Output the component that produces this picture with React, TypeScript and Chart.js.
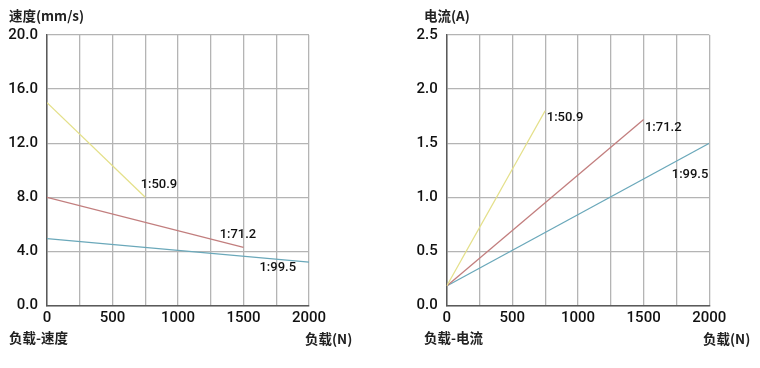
import React, { useEffect, useRef } from "react";
import { Chart, registerables } from "chart.js";

Chart.register(...registerables);

// ---- data ----
const ratioLabels = ["1:50.9", "1:71.2", "1:99.5"];
const seriesColors = ["#e4e08a", "#c27e7e", "#6aa8ba"];

// load (N) end points of each gearing
const loadX_509 = [0, 750];
const loadX_712 = [0, 1500];
const loadX_995 = [0, 2000];

// speed (mm/s)
const speed_509 = [15.0, 8.0];
const speed_712 = [8.0, 4.3];
const speed_995 = [4.95, 3.2];

// current (A)
const current_509 = [0.18, 1.8];
const current_712 = [0.18, 1.72];
const current_995 = [0.18, 1.5];

// label anchor positions (data coords)
const speedLabelX = [715, 1318, 1622];
const speedLabelY = [8.96, 5.22, 2.78];
const currentLabelX = [762, 1510, 1714];
const currentLabelY = [1.736, 1.64, 1.205];

const xMax = 2000;
const xStep = 250;
const xLabelEvery = 500;
const speedMax = 20;
const speedStep = 4;
const currentMax = 2.5;
const currentStep = 0.5;

const FONT = "Roboto, 'Liberation Sans', Arial, sans-serif";
const CJK = "'Noto Sans CJK SC', sans-serif";

function pts(xs: number[], ys: number[]) {
  return xs.map((x, i) => ({ x, y: ys[i] }));
}

type PanelProps = {
  left: number;
  yAxisWidth: number;
  rightPad: number;
  yMax: number;
  yStep: number;
  series: { x: number; y: number }[][];
  labelX: number[];
  labelY: number[];
  title: string;
  footLeft: string;
  footRight: string;
  titleX: number;
  footRightX: number;
};

function Panel(p: PanelProps) {
  const ref = useRef<HTMLCanvasElement | null>(null);
  useEffect(() => {
    if (!ref.current) return;
    const textPlugin = {
      id: "texts",
      afterDraw(chart: any) {
        const ctx = chart.ctx;
        const xs = chart.scales.x;
        const ys = chart.scales.y;
        ctx.save();
        ctx.fillStyle = "#111";
        ctx.textBaseline = "middle";
        ctx.textAlign = "left";
        ctx.font = `500 13px ${FONT}`;
        ratioLabels.forEach((t, i) => {
          ctx.fillText(t, xs.getPixelForValue(p.labelX[i]), ys.getPixelForValue(p.labelY[i]));
        });
        ctx.font = `bold 13.5px ${CJK}`;
        ctx.fillStyle = "#222";
        ctx.fillText(p.title, p.titleX, 16);
        ctx.fillText(p.footLeft, p.titleX, 338);
        ctx.fillText(p.footRight, p.footRightX, 339);
        ctx.restore();
      },
    };
    const chart = new Chart(ref.current, {
      type: "line",
      data: {
        datasets: p.series.map((d, i) => ({
          label: ratioLabels[i],
          data: d,
          borderColor: seriesColors[i],
          borderWidth: 1.3,
          pointRadius: 0,
          fill: false,
          tension: 0,
        })),
      },
      options: {
        animation: false,
        responsive: false,
        events: [],
        layout: { padding: { left: 0, top: 35, right: p.rightPad, bottom: 0 } },
        plugins: { legend: { display: false }, tooltip: { enabled: false } },
        scales: {
          x: {
            type: "linear",
            min: 0,
            max: xMax,
            afterFit: (s: any) => {
              s.height = 62.5;
            },
            ticks: {
              stepSize: xStep,
              autoSkip: false,
              maxRotation: 0,
              padding: 4,
              color: "#111",
              font: { family: FONT, size: 15, weight: "500" },
              callback: (v: any) => (Number(v) % xLabelEvery === 0 ? String(v) : ""),
            },
            grid: { color: "#b4b4b4", lineWidth: 1.3, drawTicks: false },
            border: { color: "#5a5a5a", width: 1.5 },
          },
          y: {
            min: 0,
            max: p.yMax,
            afterFit: (s: any) => {
              s.width = p.yAxisWidth;
            },
            ticks: {
              stepSize: p.yStep,
              padding: 9,
              color: "#111",
              font: { family: FONT, size: 15, weight: "500" },
              callback: (v: any) => Number(v).toFixed(1),
            },
            grid: { color: "#b4b4b4", lineWidth: 1.3, drawTicks: false },
            border: { color: "#5a5a5a", width: 1.5 },
          },
        },
      },
      plugins: [textPlugin],
    } as any);
    return () => chart.destroy();
  }, []);
  return (
    <div style={{ position: "absolute", left: p.left, top: 0, width: 380, height: 368 }}>
      <canvas ref={ref} width={380} height={368} style={{ width: 380, height: 368 }} />
    </div>
  );
}

export default function App() {
  return (
    <div style={{ position: "absolute", left: 0, top: 0, width: 760, height: 368, background: "#fff", overflow: "hidden" }}>
      <Panel
        left={0}
        yAxisWidth={47}
        rightPad={71}
        yMax={speedMax}
        yStep={speedStep}
        series={[pts(loadX_509, speed_509), pts(loadX_712, speed_712), pts(loadX_995, speed_995)]}
        labelX={speedLabelX}
        labelY={speedLabelY}
        title="速度(mm/s)"
        footLeft="负载-速度"
        footRight="负载(N)"
        titleX={9}
        footRightX={305}
      />
      <Panel
        left={380}
        yAxisWidth={66.7}
        rightPad={50.7}
        yMax={currentMax}
        yStep={currentStep}
        series={[pts(loadX_509, current_509), pts(loadX_712, current_712), pts(loadX_995, current_995)]}
        labelX={currentLabelX}
        labelY={currentLabelY}
        title="电流(A)"
        footLeft="负载-电流"
        footRight="负载(N)"
        titleX={44}
        footRightX={323}
      />
    </div>
  );
}
